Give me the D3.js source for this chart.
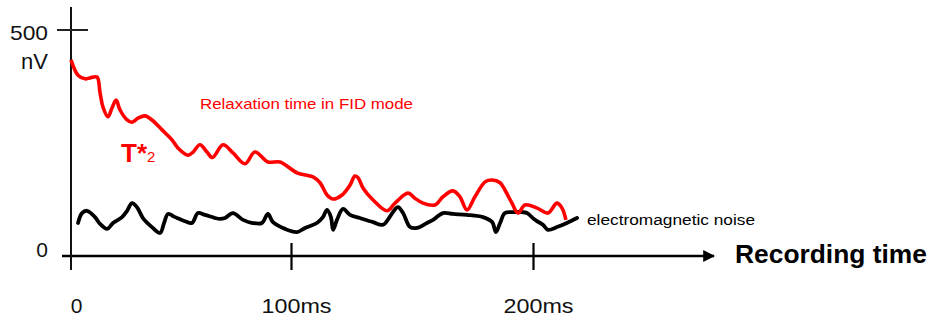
<!DOCTYPE html>
<html><head><meta charset="utf-8">
<script src="https://cdn.jsdelivr.net/npm/d3@7"></script>
<style>
html,body{margin:0;padding:0;background:#fff;}
svg{display:block;font-family:"Liberation Sans",Arial,Helvetica,sans-serif;}
</style></head>
<body>
<svg id="c" width="930" height="320"></svg>
<script>
// ---- data (time in ms, amplitude in nV) ----
const fidTime = [0,3.2,6.4,8.6,11.8,13.2,14.5,16.8,18.6,20.5,22.3,25.5,27.7,30.5,33.6,36.8,41.4,45.9,48.6,53.2,55.5,58.6,61.8,64.3,69.1,73.6,79.1,83.6,89.5,95.0,102.5,109.1,112.0,114.9,117.4,121.1,124.4,126.4,127.7,129.8,133.9,139.7,143.0,148.3,151.2,154.5,159.5,162.8,166.9,169.8,172.7,176.0,180.2,183.1,186.4,188.4,191.3,193.8,196.7,201.7,206.2,209.9,212.0,213.6];
const fidValue = [434,400,392,394,396,361,330,308,327,345,323,301,296,305,310,301,279,257,239,223,230,246,230,218,246,228,204,230,208,208,184,175,162,135,126,135,157,177,173,150,124,100,117,139,128,117,113,131,144,131,102,131,164,168,162,146,117,95,113,106,95,117,106,80];
const noiseTime = [3.2,5.0,7.3,10.9,13.2,16.4,19.1,23.2,25.5,27.7,30.0,32.7,36.8,40.5,42.3,44.1,47.3,51.8,55.0,57.7,60.9,65.5,67.7,70.0,73.6,78.2,82.7,86.8,89.5,91.8,97.3,102.5,105.8,110.7,113.2,114.9,116.5,117.4,119.0,121.5,124.4,128.5,133.9,138.0,142.1,144.2,146.3,149.2,152.1,156.2,158.7,162.8,166.9,172.7,179.3,183.1,184.7,186.4,188.4,191.7,195.5,197.5,200.8,204.1,206.2,209.9,214.0,218.2];
const noiseValue = [73,95,100,86,71,60,73,86,100,117,108,84,64,51,73,93,86,77,73,95,91,84,82,84,95,80,73,73,93,75,60,53,62,73,86,102,86,58,80,104,91,84,75,69,97,108,95,64,62,73,80,95,93,91,86,75,53,73,95,97,97,95,80,69,58,64,73,84];
const xTickValues = [0, 100, 200];
const xTickLabels = ["0", "100ms", "200ms"];
const yTickValues = [0, 500];
const yTickLabels = ["0", "500"];
const yUnit = "nV";
const xTitle = "Recording time";
const fidLabel = "Relaxation time in FID mode";
const noiseLabel = "electromagnetic noise";

// ---- layout ----
const svg = d3.select("#c");
const RED = "#ff0000";
// hand-drawn axis: uneven spacing of the ms ticks
const x = d3.scaleLinear().domain([0, 100, 200]).range([71, 291, 533]);
const y = d3.scaleLinear().domain([0, 500]).range([256, 30]);
const x0 = x(0), y0 = y(0);

// x axis line with arrow
svg.append("defs").append("marker")
  .attr("id","arr").attr("viewBox","0 0 10 10").attr("refX",9).attr("refY",5)
  .attr("markerWidth",5).attr("markerHeight",5).attr("markerUnits","strokeWidth")
  .attr("orient","auto")
  .append("path").attr("d","M0,0L10,5L0,10z").attr("fill","#000");
svg.append("line").attr("x1", x0-9).attr("x2", 714).attr("y1", y0).attr("y2", y0)
  .attr("stroke","#000").attr("stroke-width",2.4).attr("marker-end","url(#arr)");

// y axis line
svg.append("line").attr("x1", x0).attr("x2", x0).attr("y1", 7).attr("y2", 270)
  .attr("stroke","#111").attr("stroke-width",2);

// x ticks (cross the axis) and labels
const xa = d3.axisBottom(x).tickValues(xTickValues)
  .tickFormat((d,i)=>xTickLabels[i]).tickSize(27).tickPadding(28);
const gx = svg.append("g").attr("transform",`translate(0,${y0-13})`).call(xa);
gx.select(".domain").remove();
gx.selectAll(".tick line").attr("stroke","#000").attr("stroke-width",2.2)
  .attr("display",(d)=> d===0 ? "none" : null);
gx.selectAll(".tick text").attr("font-size",21).attr("fill","#111")
  .attr("font-family","Liberation Sans, Arial, sans-serif").attr("dx",5)
  .each(function(d){ if (d!==0) d3.select(this).attr("textLength",70).attr("lengthAdjust","spacingAndGlyphs"); });

// y tick (500) crossing the axis
svg.append("line").attr("x1", x0-14).attr("x2", x0+17).attr("y1", y(500)).attr("y2", y(500))
  .attr("stroke","#222").attr("stroke-width",2);
// y labels
svg.append("text").attr("x", 48).attr("y", y(500)+10).attr("text-anchor","end")
  .attr("font-size",21).attr("fill","#111")
  .attr("textLength",38).attr("lengthAdjust","spacingAndGlyphs").text(yTickLabels[1]);
svg.append("text").attr("x", 48).attr("y", y(500)+39).attr("text-anchor","end")
  .attr("font-size",22).attr("fill","#111").text(yUnit);
svg.append("text").attr("x", 48).attr("y", y(0)+1).attr("text-anchor","end")
  .attr("font-size",21).attr("fill","#111").text(yTickLabels[0]);

// x title
svg.append("text").attr("x", 735).attr("y", 263).attr("font-size",25)
  .attr("font-weight","bold").attr("fill","#000")
  .attr("textLength",192).attr("lengthAdjust","spacingAndGlyphs").text(xTitle);

// curves
const line = d3.line().x(d=>x(d[0])).y(d=>y(d[1])).curve(d3.curveCatmullRom.alpha(0.5));
const noise = noiseTime.map((t,i)=>[t, noiseValue[i]]);
const fid = fidTime.map((t,i)=>[t, fidValue[i]]);
svg.append("path").attr("d", line(noise)).attr("fill","none").attr("stroke","#000")
  .attr("stroke-width",3.8).attr("stroke-linejoin","round").attr("stroke-linecap","round");
svg.append("path").attr("d", line(fid)).attr("fill","none").attr("stroke",RED)
  .attr("stroke-width",3.6).attr("stroke-linejoin","round").attr("stroke-linecap","butt");

// annotations
svg.append("text").attr("x", 200).attr("y", 109).attr("font-size",15)
  .attr("fill",RED).attr("textLength",213).attr("lengthAdjust","spacingAndGlyphs").text(fidLabel);
const t2 = svg.append("text").attr("x", 121).attr("y", 162).attr("fill",RED)
  .attr("font-weight","bold").attr("font-size",26);
t2.append("tspan").text("T*");
t2.append("tspan").attr("font-size",15).attr("font-weight","normal").text("2");
svg.append("text").attr("x", 587).attr("y", 225).attr("font-size",14)
  .attr("fill","#000").attr("textLength",168).attr("lengthAdjust","spacingAndGlyphs").text(noiseLabel);
</script>
</body></html>
